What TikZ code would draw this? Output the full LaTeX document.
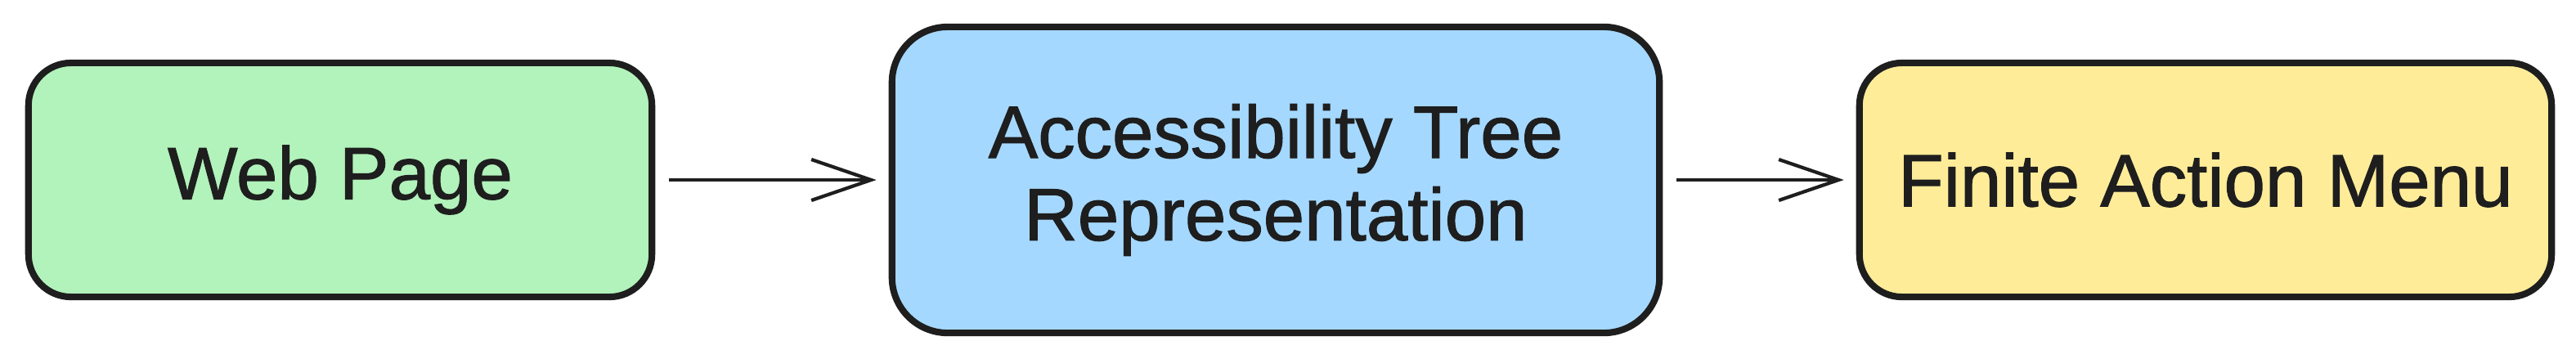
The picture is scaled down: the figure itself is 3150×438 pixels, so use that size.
\documentclass[tikz,border=0pt]{standalone}
\usepackage{fontspec}
\setmainfont{Liberation Sans}[BoldFont=Liberation Sans, BoldFeatures={FakeBold=1.2}]
\usetikzlibrary{arrows.meta}
\definecolor{strokec}{HTML}{1E1E1E}
\definecolor{fillgreen}{HTML}{B2F2BB}
\definecolor{fillblue}{HTML}{A5D8FF}
\definecolor{fillyellow}{HTML}{FFEC99}
\begin{document}
\begin{tikzpicture}[x=0.01cm,y=-0.01cm,
  box/.style={draw=strokec, line width=2.3pt, rounded corners=0.52cm, inner sep=0pt,
    font=\fontsize{25.8}{28.7}\selectfont\bfseries, text=strokec, align=center},
  flow/.style={draw=strokec, line width=1.2pt,
    -{Straight Barb[length=0.73cm,width=0.5cm,line width=1.2pt]},
    shorten <=0.17cm, shorten >=0.15cm}]
\useasboundingbox (0,0) rectangle (3150,438);
\node[box, fill=fillgreen, minimum width=7.62cm, minimum height=2.86cm] (web) at (416,220) {Web Page};
\node[box, fill=fillblue, rounded corners=0.68cm, minimum width=9.38cm, minimum height=3.74cm] (tree) at (1560,220) {Accessibility Tree\\Representation};
\node[box, fill=fillyellow, minimum width=8.46cm, minimum height=2.86cm] (menu) at (2697,220) {Finite Action Menu};
\draw[flow] (web) -- (tree);
\draw[flow] (tree) -- (menu);
\end{tikzpicture}
\end{document}
